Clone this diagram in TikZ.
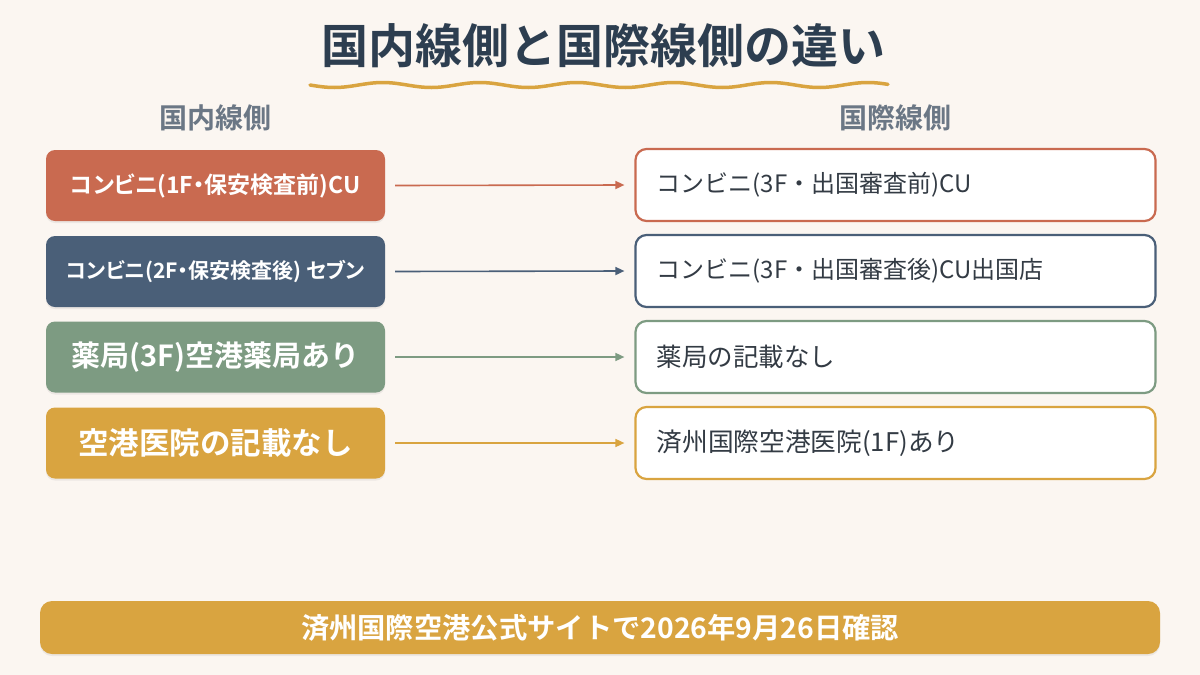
\documentclass[tikz,border=0pt]{standalone}
\usepackage{fontspec}
\setmainfont{Noto Sans CJK JP}
\newfontfamily\cjkb{Noto Sans CJK JP Bold}
\newfontfamily\cjkbp[RawFeature=+palt]{Noto Sans CJK JP Bold}
\usetikzlibrary{shadows,calc,arrows.meta}
\definecolor{bg}{HTML}{FBF6F1}
\definecolor{cred}{HTML}{C96A50}
\definecolor{cnavy}{HTML}{4A5F78}
\definecolor{cgreen}{HTML}{7D9B82}
\definecolor{cgold}{HTML}{D9A440}
\definecolor{ctitle}{HTML}{2D3E50}
\definecolor{chead}{HTML}{6B7785}
\definecolor{ctext}{HTML}{333B44}
\tikzset{
  lbox/.style={rounded corners=9pt, minimum width=339pt, minimum height=71pt, text=white, inner sep=0pt,
    drop shadow={shadow xshift=0pt, shadow yshift=-2pt, opacity=0.12}},
  rbox/.style={rounded corners=11pt, line width=2.2pt, fill=white, minimum width=520pt, minimum height=72pt,
    inner sep=0pt},
  rtext/.style={anchor=west, text=ctext, inner sep=0pt},
  conn/.style={line width=1.6pt, -{Triangle[length=9pt,width=8pt]}},
}
\begin{document}
\begin{tikzpicture}[x=1pt,y=-1pt]
\useasboundingbox (0,0) rectangle (1200,675);
\fill[bg] (0,0) rectangle (1200,675);
% title
\node[text=ctitle, font=\cjkb\fontsize{47}{54}\selectfont] (title) at (603,46) {国内線側と国際線側の違い};
\draw[cgold, line width=3.5pt, line cap=round] plot[domain=310:888, samples=120, smooth] (\x,{85+2.5*sin((\x-310)*3.7113)});
% headers
\node[text=chead, font=\cjkb\fontsize{28}{32}\selectfont] (hl) at (215,118) {国内線側};
\node[text=chead, font=\cjkb\fontsize{28}{32}\selectfont] (hr) at (895,118) {国際線側};
% left boxes
\node[lbox, fill=cred, font=\cjkbp\fontsize{23}{27}\selectfont] (l1) at (215.5,185.5) {コンビニ(1F・保安検査前)CU};
\node[lbox, fill=cnavy, font=\cjkbp\fontsize{21}{25}\selectfont] (l2) at (215.5,271.5) {コンビニ(2F・保安検査後) セブン};
\node[lbox, fill=cgreen, font=\cjkb\fontsize{29}{33}\selectfont] (l3) at (215.5,357) {薬局(3F)空港薬局あり};
\node[lbox, fill=cgold, font=\cjkb\fontsize{30.5}{35}\selectfont] (l4) at (215.5,443) {空港医院の記載なし};
% right boxes
\node[rbox, draw=cred] (r1) at (895.5,185) {};
\node[rbox, draw=cnavy] (r2) at (895.5,271) {};
\node[rbox, draw=cgreen] (r3) at (895.5,357) {};
\node[rbox, draw=cgold] (r4) at (895.5,443) {};
\node[rtext, font=\fontsize{24}{28}\selectfont] (t1) at ([xshift=22pt]r1.west) {コンビニ(3F・出国審査前)CU};
\node[rtext, font=\fontsize{24}{28}\selectfont] (t2) at ([xshift=22pt]r2.west) {コンビニ(3F・出国審査後)CU出国店};
\node[rtext, font=\fontsize{25.5}{30}\selectfont] (t3) at ([xshift=22pt]r3.west) {薬局の記載なし};
\node[rtext, font=\fontsize{25.7}{30}\selectfont] (t4) at ([xshift=22pt]r4.west) {済州国際空港医院(1F)あり};
% connectors
\draw[conn, cred] ([xshift=10pt]l1.east) -- ([xshift=-10pt]r1.west);
\draw[conn, cnavy] ([xshift=10pt]l2.east) -- ([xshift=-10pt]r2.west);
\draw[conn, cgreen] ([xshift=10pt]l3.east) -- ([xshift=-10pt]r3.west);
\draw[conn, cgold] ([xshift=10pt]l4.east) -- ([xshift=-10pt]r4.west);
% footer
\node[fill=cgold, rounded corners=12pt, minimum width=1120pt, minimum height=53pt, inner sep=0pt, text=white,
  font=\cjkb\fontsize{28.3}{32}\selectfont, drop shadow={shadow xshift=0pt, shadow yshift=-2pt, opacity=0.12}] (foot) at (600,627.5) {済州国際空港公式サイトで2026年9月26日確認};
\end{tikzpicture}
\end{document}
